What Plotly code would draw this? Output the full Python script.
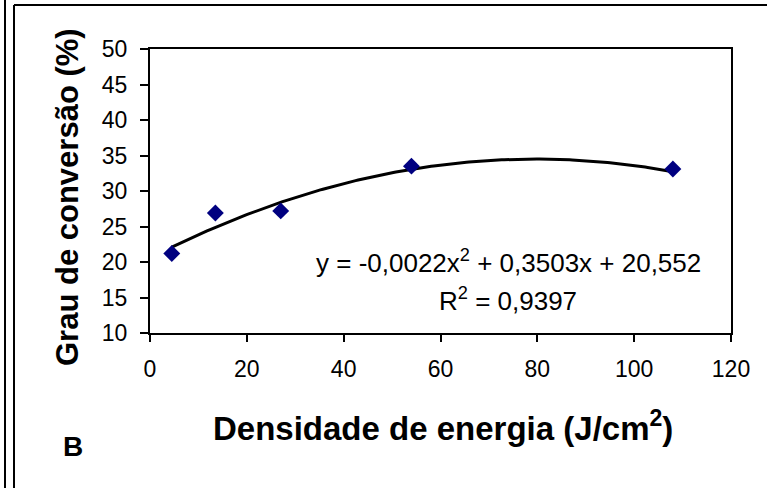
import numpy as np
import plotly.graph_objects as go

# Data
energy_density = [4.5, 13.5, 27, 54, 108]          # J/cm^2
conversion = [21.2, 26.9, 27.2, 33.5, 33.1]        # %

# Trendline coefficients shown on the chart (y = a x^2 + b x + c)
coef_a = -0.0022
coef_b = 0.3503
coef_c = 20.552
r_squared = 0.9397

x_ticks = [0, 20, 40, 60, 80, 100, 120]
y_ticks = [10, 15, 20, 25, 30, 35, 40, 45, 50]

FONT = "Liberation Sans, Arial, sans-serif"

W, H = 767, 488
ML, MR, MT, MB = 150, 36, 49, 155
PW, PH = W - ML - MR, H - MT - MB

def px_x(px):
    return (px - ML) / PW

def px_y(py):
    return (H - MB - py) / PH

trend_x = np.linspace(min(energy_density), max(energy_density), 200)
trend_y = coef_a * trend_x**2 + coef_b * trend_x + coef_c

fig = go.Figure()
fig.add_trace(go.Scatter(
    x=trend_x, y=trend_y, mode="lines",
    line=dict(color="black", width=3), hoverinfo="skip", showlegend=False))
fig.add_trace(go.Scatter(
    x=energy_density, y=conversion, mode="markers",
    marker=dict(symbol="diamond", size=13, color="#000080"),
    showlegend=False))

axis_common = dict(
    showgrid=False, zeroline=False, showline=True, linecolor="black",
    linewidth=2, mirror=True, ticks="outside", tickcolor="black",
    tickwidth=2, tickfont=dict(family=FONT, size=23, color="black"))

fig.update_xaxes(range=[0, 120], tickvals=x_ticks, ticklen=7,
                 ticklabelstandoff=7, **axis_common)
fig.update_yaxes(range=[10, 50], tickvals=y_ticks, ticklen=8,
                 ticklabelstandoff=8, **axis_common)

eq_text = (f"y = {coef_a:.4f}x<sup>2</sup> + {coef_b:.4f}x + {coef_c:.3f}"
           .replace(".", ","))
r2_text = f"R<sup>2</sup> = {r_squared:.4f}".replace(".", ",")

def ann(text, px, py, size, angle=0):
    return dict(text=text, x=px_x(px), y=px_y(py), xref="paper", yref="paper",
                xanchor="center", yanchor="middle", showarrow=False,
                textangle=angle, font=dict(family=FONT, size=size, color="black"))

annotations = [
    ann(eq_text, 508, 261, 26),
    ann(r2_text, 508, 299, 26),
    ann("<b>Grau de conversão (%)</b>", 67, 197, 31, -90),
    ann("<b>Densidade de energia (J/cm<sup>2</sup>)</b>", 443, 426, 33),
    ann("<b>B</b>", 73, 446, 28),
]

shapes = [
    # outer page line at left
    dict(type="line", xref="paper", yref="paper",
         x0=px_x(5), x1=px_x(5), y0=px_y(0), y1=px_y(H),
         line=dict(color="black", width=2)),
    # chart frame: left and top
    dict(type="line", xref="paper", yref="paper",
         x0=px_x(14), x1=px_x(14), y0=px_y(5), y1=px_y(H),
         line=dict(color="black", width=2)),
    dict(type="line", xref="paper", yref="paper",
         x0=px_x(14), x1=px_x(W), y0=px_y(5), y1=px_y(5),
         line=dict(color="black", width=2)),
]

fig.update_layout(
    width=W, height=H,
    margin=dict(l=ML, r=MR, t=MT, b=MB),
    paper_bgcolor="white", plot_bgcolor="white",
    annotations=annotations, shapes=shapes,
    font=dict(family=FONT, color="black"),
)

fig.write_html("out.html",
               config={"displayModeBar": False},
               post_script="document.body.style.margin='0';")
